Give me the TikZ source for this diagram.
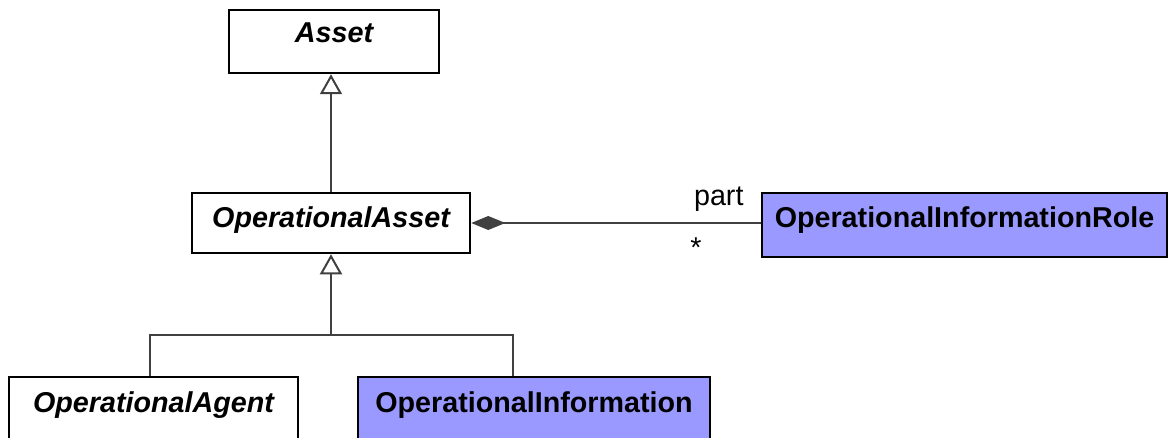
\documentclass[tikz,border=0pt]{standalone}
\usepackage{fontspec}
\setmainfont{Liberation Sans}
\usetikzlibrary{arrows.meta, calc}
\definecolor{cline}{HTML}{404040}
\definecolor{cinfo}{HTML}{9999FF}

\begin{document}
\begin{tikzpicture}[x=1pt, y=-1pt,
    cls/.style={draw=black, line width=2.5pt, inner sep=0pt, text height=35pt, text depth=27pt,
      font=\fontsize{28.7}{34}\selectfont\bfseries},
    abstr/.style={cls, font=\fontsize{28.7}{34}\selectfont\bfseries\itshape},
    gen/.style={draw=cline, line width=2.5pt, -{Triangle[open, length=20pt, width=22pt, line width=2pt]}},
    tree/.style={draw=cline, line width=2.5pt}]
    \useasboundingbox (0,0) rectangle (1169,438);
    \clip (0,0) rectangle (1169,438);
    % classes
    \node (asset) [abstr, minimum width=210pt, text height=33pt, text depth=30pt] at (334,41.5) {Asset};
    \node (opasset) [abstr, minimum width=278pt, text depth=25pt] at (331,223) {OperationalAsset};
    \node (oprole) [cls, fill=cinfo, minimum width=405pt, text depth=29pt] at (964.5,225) {OperationalInformationRole};
    \node (opagent) [abstr, minimum width=289pt, text depth=40pt] at (153.5,414.5) {OperationalAgent};
    \node (opinfo) [cls, fill=cinfo, minimum width=352pt, text depth=40pt] at (534,414.5) {OperationalInformation};
    % generalisations
    \draw[gen] (opasset.north) -- (opasset.north |- asset.south);
    \coordinate (fork) at (331,335);
    \draw[gen] (fork) -- (opasset.south);
    \draw[tree] ([xshift=-3.5pt]opagent.north) |- (fork) -| ([xshift=-21pt]opinfo.north);
    % composition
    \draw[draw=cline, line width=2.5pt, {Diamond[length=34pt, width=14pt]}-] (opasset.east) -- (opasset.east -| oprole.west)
        node[pos=1, anchor=base east, xshift=-16pt, yshift=17pt, inner sep=0pt, font=\fontsize{28.7}{34}\selectfont] {part}
        node[pos=1, anchor=base east, xshift=-58pt, yshift=-35pt, inner sep=0pt, font=\fontsize{28.7}{34}\selectfont] {*};
\end{tikzpicture}
\end{document}
